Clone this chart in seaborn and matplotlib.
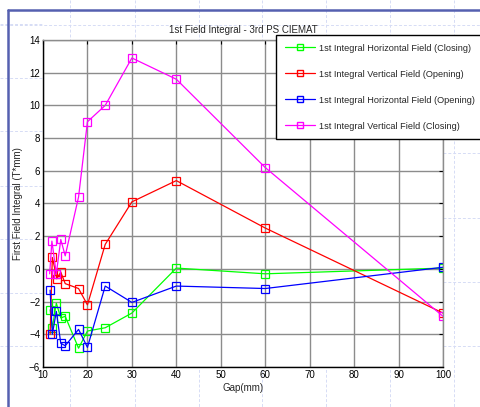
"""
First field integral vs gap for the 3rd PS CIEMAT, redrawn in seaborn.
"""

import matplotlib.pyplot as plt
import matplotlib.lines as mlines
import numpy as np
import pandas as pd
import seaborn as sns

# Data
gap_h_close = [11.6, 12.1, 13.0, 14.0, 15.0, 18.0, 20.0, 24.0, 30.0, 40.0, 60.0, 100.0]
int_h_close = [-2.5, -3.6, -2.1, -3.0, -2.9, -4.85, -3.8, -3.6, -2.7, 0.05, -0.3, 0.05]

gap_v_open = [11.6, 12.1, 12.9, 13.1, 14.0, 15.0, 18.0, 20.0, 24.0, 30.0, 40.0, 60.0, 100.0]
int_v_open = [-4.0, 0.7, -0.3, -0.6, -0.2, -0.9, -1.2, -2.2, 1.5, 4.1, 5.4, 2.5, -2.7]

gap_h_open = [11.6, 12.1, 13.0, 14.0, 15.0, 18.0, 20.0, 24.0, 30.0, 40.0, 60.0, 100.0]
int_h_open = [-1.3, -4.0, -2.6, -4.55, -4.7, -3.7, -4.8, -1.05, -2.05, -1.05, -1.2, 0.1]

gap_v_close = [11.5, 12.0, 13.0, 14.0, 15.0, 18.0, 20.0, 24.0, 30.0, 40.0, 60.0, 100.0]
int_v_close = [-0.3, 1.7, -0.3, 1.8, 0.8, 4.4, 9.0, 10.0, 12.9, 11.6, 6.2, -2.9]

series = [
    ("1st Integral Horizontal Field (Closing)", gap_h_close, int_h_close, "#00ff00"),
    ("1st Integral Vertical Field (Opening)", gap_v_open, int_v_open, "#ff0000"),
    ("1st Integral Horizontal Field (Opening)", gap_h_open, int_h_open, "#0000ff"),
    ("1st Integral Vertical Field (Closing)", gap_v_close, int_v_close, "#ff00ff"),
]

sns.set_style("white")
plt.rcParams["font.family"] = ["Liberation Sans", "DejaVu Sans"]

W, H = 481, 407
fig = plt.figure(figsize=(W / 100, H / 100), dpi=100)
fig.patch.set_facecolor("white")

# canvas decoration behind the chart: faint dashed grid and blue frame
deco = fig.add_axes([0, 0, 1, 1], zorder=0)
deco.set_xlim(0, W)
deco.set_ylim(H, 0)
deco.axis("off")
dash = dict(color="#d6dcf5", linewidth=0.7, linestyle=(0, (3, 2)))
for yy in [24, 78, 131, 186, 239, 293, 346]:
    deco.plot([0, 43], [yy, yy], **dash)
for yy in [153, 218, 282, 346]:
    deco.plot([443, W], [yy, yy], **dash)
deco.plot([0, W], [25, 25], **dash)
for xx in [70, 135, 199, 262, 326, 390, 454]:
    deco.plot([xx, xx], [0, H], **dash)
deco.plot([8, 8], [10, H], color="#5560b0", linewidth=1.8)
deco.plot([8, W], [10, 10], color="#5560b0", linewidth=1.8)

ax = fig.add_axes([43 / W, 1 - 367 / H, 400 / W, 327 / H], zorder=1)
ax.set_facecolor("white")

handles = []
for label, gx, gy, color in series:
    df = pd.DataFrame({"gap": gx, "val": gy})
    sns.lineplot(
        data=df, x="gap", y="val", ax=ax, color=color, linewidth=0.9,
        marker="s", markersize=5.8, markerfacecolor="none",
        markeredgecolor=color, markeredgewidth=0.9,
        estimator=None, sort=False, legend=False,
    )
    handles.append(mlines.Line2D([], [], color=color, linewidth=0.9, marker="s",
                                 markersize=5, markerfacecolor="none",
                                 markeredgecolor=color, label=label))

ax.set_xlim(10, 100)
ax.set_ylim(-6, 14)
ax.set_xticks(np.arange(10, 101, 10))
ax.set_yticks(np.arange(-6, 15, 2))
ax.grid(True, color="#8c8c8c", linewidth=1.0)
ax.tick_params(direction="in", top=True, right=True, length=3, width=0.8,
               labelsize=7, colors="black", pad=2)
for side in ["left", "bottom"]:
    ax.spines[side].set_color("black")
    ax.spines[side].set_linewidth(1.0)
for side in ["top", "right"]:
    ax.spines[side].set_color("#8c8c8c")
    ax.spines[side].set_linewidth(1.0)

ax.set_title("1st Field Integral - 3rd PS CIEMAT", fontsize=7, pad=5)
ax.set_xlabel("Gap(mm)", fontsize=7, labelpad=2)
ax.set_ylabel("First Field Integral (T*mm)", fontsize=7, labelpad=4)

leg = fig.legend(
    handles=handles, loc="upper left",
    bbox_to_anchor=(276 / W, 1 - 35 / H), bbox_transform=fig.transFigure,
    fontsize=6.6, frameon=True, fancybox=False, framealpha=1,
    edgecolor="black", borderpad=0.95, labelspacing=1.85,
    handlelength=3.3, handletextpad=0.45, borderaxespad=0,
)
leg.get_frame().set_linewidth(1.0)
leg.set_zorder(5)

fig.savefig("out.png", dpi=100, facecolor="white")
